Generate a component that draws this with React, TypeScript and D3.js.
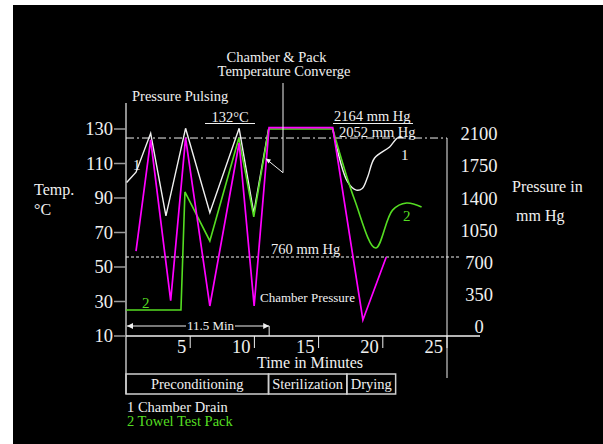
import React from "react";
import * as d3 from "d3";

// ---- data ----
const tempTicks = [10, 30, 50, 70, 90, 110, 130];
const pressTicks = [0, 350, 700, 1050, 1400, 1750, 2100];
const timeTicks = [5, 10, 15, 20, 25];

// chamber drain temperature (°C) vs time (min)
const drainPulseT = [0.05, 0.78, 1.92, 3.11, 4.64, 6.53, 8.81, 9.95, 11.1];
const drainPulseV = [99, 105, 127.5, 79.6, 130.4, 81.5, 130.4, 81.3, 130];
const drainDryT = [16.1, 17.26, 17.94, 18.4, 18.82, 19.36, 20.53, 21.15, 21.6];
const drainDryV = [130, 99.3, 94.6, 95.5, 102.2, 113.2, 119.6, 124.8, 125];

// towel test pack temperature (°C)
const packPulseT = [0, 4.28, 4.59, 6.53, 8.79, 9.95, 11.12, 16.1];
const packPulseV = [25.1, 25.1, 93.5, 65.1, 124.8, 79, 130, 130];
const packDryT = [16.1, 17.81, 19.44, 20.76, 21.85, 23.02];
const packDryV = [130, 88.8, 61, 83, 87.1, 84.8];

// chamber pressure (mm Hg)
const pressT = [0.78, 1.92, 3.48, 4.64, 6.53, 8.81, 9.98, 11.14, 16.1, 18.45, 20.27];
const pressV = [825, 2031, 286, 2053, 228, 1998, 228, 2164, 2164, 76, 760];

const phases = ["Preconditioning", "Sterilization", "Drying"];
const phaseBounds = [0, 11.1, 17.2, 21.0];

const refLow = 760;
const refHigh = 2052;
const spanEnd = 11.15;

const WHITE = "#f0f0f0";
const GREEN = "#55dd22";
const MAGENTA = "#ff00ff";
const GREY = "#9a9a9a";
const FONT = "'Liberation Serif', 'Times New Roman', serif";

const zip = (a: number[], b: number[]) => a.map((v, i) => [v, b[i]] as [number, number]);

export default function App() {
  const x = d3.scaleLinear().domain([0, 25]).range([126, 447]);
  const yT = d3.scaleLinear().domain([10, 130]).range([336, 129]);
  const yP = d3.scaleLinear().domain([0, 2100]).range([327, 133.6]);

  const linT = d3.line<[number, number]>().x((d) => x(d[0])).y((d) => yT(d[1]));
  const curT = d3
    .line<[number, number]>()
    .x((d) => x(d[0]))
    .y((d) => yT(d[1]))
    .curve(d3.curveCatmullRom.alpha(0.5));
  const linP = d3.line<[number, number]>().x((d) => x(d[0])).y((d) => yP(d[1]));

  const yAxisBottom = 336;
  const boxTop = 374;
  const boxBot = 394;

  return (
    <svg
      width={603}
      height={444}
      style={{ position: "absolute", left: 0, top: 0, fontFamily: FONT }}
    >
      <rect x={13} y={5} width={590} height={439} fill="#000" />

      {/* left axis */}
      <line x1={126} x2={126} y1={103} y2={boxBot} stroke={WHITE} strokeWidth={1.2} />
      {tempTicks.map((t) => (
        <g key={"lt" + t}>
          <line x1={114} x2={126} y1={yT(t)} y2={yT(t)} stroke={GREY} strokeWidth={1.5} />
          <text x={113} y={yT(t)} dy="0.35em" textAnchor="end" fontSize={18.5} fill={WHITE}>
            {t}
          </text>
        </g>
      ))}

      {/* x axis */}
      <line x1={126} x2={480} y1={yAxisBottom} y2={yAxisBottom} stroke={WHITE} strokeWidth={1.5} />
      {timeTicks.map((t) => (
        <g key={"xt" + t}>
          <line x1={x(t)} x2={x(t)} y1={yAxisBottom} y2={348} stroke={WHITE} strokeWidth={1} />
          <text x={x(t) - 4} y={353} textAnchor="end" fontSize={18.5} fill={WHITE}>
            {t}
          </text>
        </g>
      ))}
      <text x={310} y={368} textAnchor="middle" fontSize={16} fill={WHITE}>
        Time in Minutes
      </text>

      {/* right axis */}
      <line x1={447} x2={447} y1={yP(refHigh)} y2={378} stroke={WHITE} strokeWidth={1} />
      {pressTicks.map((p) => (
        <text key={"rp" + p} x={479} y={yP(p)} dy="0.35em" textAnchor="middle" fontSize={18.5} fill={WHITE}>
          {p}
        </text>
      ))}
      <text x={512} y={192} fontSize={16} fill={WHITE}>Pressure in</text>
      <text x={516} y={221} fontSize={16} fill={WHITE}>mm Hg</text>
      <text x={34} y={195} fontSize={16} fill={WHITE}>Temp.</text>
      <text x={34} y={215} fontSize={16} fill={WHITE}>°C</text>

      {/* reference lines */}
      <line x1={126} x2={447} y1={yP(refHigh)} y2={yP(refHigh)} stroke={WHITE} strokeWidth={1} strokeDasharray="8,3,2,3" />
      <line x1={126} x2={460} y1={yP(refLow)} y2={yP(refLow)} stroke={WHITE} strokeWidth={1} strokeDasharray="3,2" />

      {/* data lines */}
      <path d={linT(zip(drainPulseT, drainPulseV)) || ""} fill="none" stroke={WHITE} strokeWidth={1.4} />
      <path d={curT(zip(drainDryT, drainDryV)) || ""} fill="none" stroke={WHITE} strokeWidth={1.4} />
      <path d={linT(zip(packPulseT, packPulseV)) || ""} fill="none" stroke={GREEN} strokeWidth={1.6} />
      <path d={curT(zip(packDryT, packDryV)) || ""} fill="none" stroke={GREEN} strokeWidth={1.6} />
      <path d={linP(zip(pressT, pressV)) || ""} fill="none" stroke={MAGENTA} strokeWidth={1.7} />

      {/* series labels */}
      <text x={133} y={170} fontSize={15} fill={WHITE}>1</text>
      <text x={401} y={160} fontSize={15} fill={WHITE}>1</text>
      <text x={142} y={308} fontSize={15} fill={GREEN}>2</text>
      <text x={403} y={221} fontSize={15} fill={GREEN}>2</text>

      {/* annotations */}
      <text x={132} y={101} fontSize={14.5} fill={WHITE}>Pressure Pulsing</text>
      <text x={230} y={121.5} textAnchor="middle" fontSize={14.5} fill={WHITE}>132°C</text>
      <line x1={205} x2={255} y1={123.5} y2={123.5} stroke={WHITE} strokeWidth={1.2} />
      <text x={276.5} y={62} textAnchor="middle" fontSize={14.5} fill={WHITE}>Chamber &amp; Pack</text>
      <text x={284} y={76} textAnchor="middle" fontSize={14.5} fill={WHITE}>Temperature Converge</text>
      <line x1={283} x2={283} y1={83} y2={172.7} stroke={WHITE} strokeWidth={1} />
      <line x1={283} x2={268} y1={172.7} y2={160.5} stroke={WHITE} strokeWidth={1} />
      <path d="M265.5,158.5 L271,159.5 L268.5,163.5 Z" fill={WHITE} />
      <text x={334} y={121} fontSize={14.5} fill={WHITE}>2164 mm Hg</text>
      <line x1={333} x2={413} y1={123.5} y2={123.5} stroke={WHITE} strokeWidth={1.2} />
      <text x={339} y={137} fontSize={14.5} fill={WHITE}>2052 mm Hg</text>
      <text x={271} y={254} fontSize={14.5} fill={WHITE}>760 mm Hg</text>
      <text x={260} y={302} fontSize={13} fill={WHITE}>Chamber Pressure</text>

      {/* 11.5 min span */}
      <line x1={x(0) + 1} x2={186} y1={326} y2={326} stroke={WHITE} strokeWidth={1} />
      <line x1={235} x2={x(spanEnd)} y1={326} y2={326} stroke={WHITE} strokeWidth={1} />
      <path d={`M${x(0) + 1},326 l6,-3 l0,6 Z`} fill={WHITE} />
      <path d={`M${x(spanEnd)},326 l-6,-3 l0,6 Z`} fill={WHITE} />
      <line x1={x(spanEnd)} x2={x(spanEnd)} y1={326} y2={yAxisBottom} stroke={WHITE} strokeWidth={1} />
      <text x={210.5} y={329.5} textAnchor="middle" fontSize={13} fill={WHITE}>11.5 Min</text>

      {/* phase boxes */}
      {phases.map((p, i) => (
        <g key={p}>
          <rect
            x={x(phaseBounds[i])}
            y={boxTop}
            width={x(phaseBounds[i + 1]) - x(phaseBounds[i])}
            height={boxBot - boxTop}
            fill="none"
            stroke="#cfcfcf"
            strokeWidth={1.5}
          />
          <text
            x={(x(phaseBounds[i]) + x(phaseBounds[i + 1])) / 2}
            y={389}
            textAnchor="middle"
            fontSize={14.5}
            fill={WHITE}
          >
            {p}
          </text>
        </g>
      ))}

      {/* legend */}
      <text x={127} y={412} fontSize={14.5} fill={WHITE}>1 Chamber Drain</text>
      <text x={127} y={426} fontSize={14.5} fill={GREEN}>2 Towel Test Pack</text>
    </svg>
  );
}
